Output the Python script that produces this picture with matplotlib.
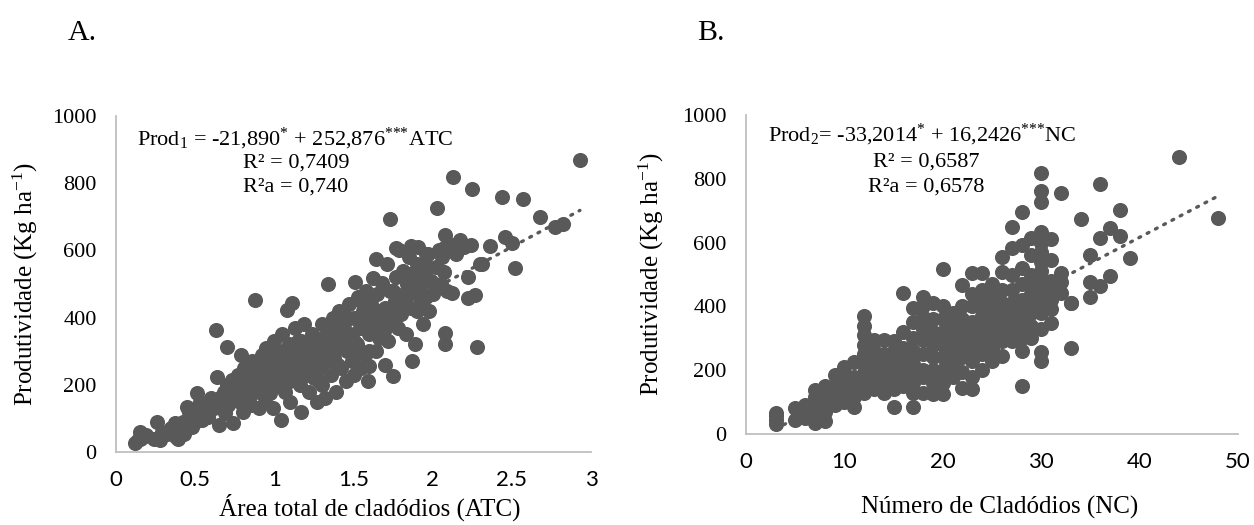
import matplotlib.pyplot as plt

# Panel A: area total de cladodios (ATC) x produtividade
atc = [
    0.12, 0.14, 0.15, 0.17, 0.19,
    0.24, 0.26, 0.28, 0.29,
    0.32, 0.35, 0.37, 0.38, 0.39, 0.40,
    0.42, 0.43, 0.45, 0.46, 0.47, 0.48, 0.49, 0.50,
    0.51, 0.52, 0.53, 0.54, 0.56, 0.57, 0.58, 0.59, 0.60,
    0.62, 0.63, 0.64, 0.65, 0.66, 0.67, 0.68, 0.69, 0.70, 0.70,
    0.71, 0.72, 0.73, 0.74, 0.75, 0.76, 0.77, 0.78, 0.79, 0.80, 0.80,
    0.81, 0.82, 0.83, 0.84, 0.85, 0.86, 0.87, 0.88, 0.88, 0.89, 0.90,
    0.91, 0.92, 0.93, 0.94, 0.95, 0.96, 0.97, 0.98, 0.99, 1.00, 1.00,
    1.01, 1.02, 1.03, 1.04, 1.05, 1.06, 1.07, 1.08, 1.08, 1.09, 1.10, 1.10,
    1.11, 1.12, 1.13, 1.14, 1.15, 1.16, 1.17, 1.17, 1.18, 1.19, 1.20,
    1.21, 1.22, 1.23, 1.24, 1.25, 1.26, 1.27, 1.28, 1.29, 1.30, 1.30,
    1.31, 1.32, 1.33, 1.34, 1.35, 1.36, 1.37, 1.38, 1.39, 1.40, 1.40,
    1.41, 1.42, 1.43, 1.44, 1.45, 1.46, 1.47, 1.48, 1.49, 1.50, 1.50,
    1.51, 1.52, 1.53, 1.54, 1.55, 1.56, 1.57, 1.58, 1.59, 1.60, 1.60,
    1.61, 1.62, 1.63, 1.64, 1.64, 1.65, 1.66, 1.67, 1.68, 1.69, 1.70, 1.70,
    1.71, 1.72, 1.73, 1.73, 1.74, 1.75, 1.76, 1.77, 1.77, 1.78, 1.79, 1.80,
    1.81, 1.82, 1.83, 1.84, 1.85, 1.86, 1.86, 1.87, 1.88, 1.89, 1.90, 1.90,
    1.91, 1.92, 1.93, 1.94, 1.95, 1.96, 1.96, 1.97, 1.98, 1.99, 2.00,
    2.02, 2.03, 2.04, 2.05, 2.06, 2.07, 2.07, 2.08, 2.08, 2.08, 2.09, 2.10,
    2.12, 2.13, 2.15, 2.17, 2.20, 2.22, 2.22, 2.24, 2.25, 2.27, 2.28, 2.30,
    2.31, 2.36, 2.44, 2.46, 2.50, 2.52, 2.57, 2.68, 2.77, 2.82, 2.93,
    # denser middle of the cloud
    0.85, 0.90, 0.95, 1.00, 1.05, 1.05, 1.10, 1.12, 1.15, 1.15,
    1.20, 1.20, 1.25, 1.25, 1.28, 1.30, 1.30, 1.35, 1.35, 1.40,
    1.40, 1.45, 1.45, 1.50, 1.50, 1.55, 1.55, 1.60, 1.60, 1.65,
    1.65, 1.70, 1.75, 1.75, 1.80, 1.85, 1.85, 1.90, 1.95, 1.95,
]
prod_atc = [
    28, 35, 60, 45, 50,
    40, 90, 35, 60,
    55, 70, 85, 45, 40, 65,
    90, 55, 135, 120, 100, 75, 85, 110,
    175, 130, 150, 95, 120, 140, 105, 125, 160,
    130, 363, 224, 80, 165, 145, 180, 115, 200, 313,
    140, 175, 215, 85, 160, 190, 230, 150, 289, 205, 120,
    250, 170, 230, 195, 140, 270, 215, 452, 180, 260, 130,
    235, 290, 200, 160, 310, 250, 175, 225, 130, 280, 330,
    200, 250, 300, 95, 350, 230, 180, 423, 270, 320, 210, 150,
    443, 260, 370, 300, 240, 200, 120, 330, 280, 380, 230,
    310, 180, 260, 350, 220, 290, 150, 330, 250, 380, 200,
    300, 160, 270, 500, 340, 230, 400, 280, 180, 360, 310,
    420, 250, 330, 380, 210, 300, 440, 350, 270, 400, 230,
    507, 320, 460, 370, 250, 420, 290, 480, 210, 350, 255,
    440, 517, 380, 300, 574, 470, 340, 410, 502, 360, 260, 430,
    560, 330, 692, 480, 390, 225, 450, 520, 606, 370, 600, 410,
    540, 470, 350, 500, 580, 430, 613, 270, 520, 320, 480, 560,
    610, 440, 500, 380, 540, 460, 589, 590, 420, 510, 470,
    550, 725, 600, 500, 580, 606, 537, 646, 322, 355, 480, 620,
    472, 818, 590, 631, 610, 522, 457, 616, 783, 467, 313, 560,
    561, 613, 760, 641, 621, 547, 752, 700, 670, 678, 868,
    230, 200, 200, 240, 270, 210, 290, 220, 330, 280,
    300, 260, 320, 260, 210, 280, 340, 300, 370, 330,
    260, 350, 400, 330, 300, 400, 450, 400, 300, 420,
    360, 390, 480, 420, 450, 470, 530, 420, 520, 560,
]

# Panel B: numero de cladodios (NC) x produtividade
nc = (
    [3] * 4 + [5] * 2 + [6] * 3 + [7] * 5 + [8] * 5 + [9] * 4 + [10] * 5
    + [11] * 5 + [12] * 9 + [13] * 6 + [14] * 6 + [15] * 7 + [16] * 7
    + [17] * 9 + [18] * 9 + [19] * 8 + [20] * 9 + [21] * 6 + [22] * 8
    + [23] * 9 + [24] * 8 + [25] * 7 + [26] * 8 + [27] * 8 + [28] * 10
    + [29] * 8 + [30] * 15 + [31] * 6 + [32] * 4 + [33] * 3 + [34] * 1
    + [35] * 3 + [36] * 3 + [37] * 2 + [38] * 2 + [39] * 1 + [44] * 1
    + [48] * 1
)
prod_nc = [
    30, 45, 55, 65,
    45, 80,
    50, 70, 90,
    35, 60, 90, 115, 138,
    40, 70, 100, 130, 150,
    90, 120, 150, 185,
    100, 130, 160, 190, 210,
    85, 115, 150, 180, 225,
    130, 160, 190, 220, 250, 280, 310, 340, 370,
    140, 170, 200, 230, 260, 295,
    130, 160, 190, 220, 250, 295,
    85, 140, 170, 200, 230, 260, 290,
    150, 180, 210, 240, 270, 320, 441,
    85, 130, 160, 190, 220, 260, 300, 350, 394,
    130, 180, 200, 250, 295, 330, 368, 400, 430,
    125, 160, 200, 240, 280, 320, 360, 410,
    125, 160, 200, 240, 280, 320, 360, 400, 516,
    180, 220, 260, 300, 340, 380,
    143, 195, 240, 280, 320, 360, 400, 466,
    140, 180, 230, 270, 310, 350, 400, 440, 504,
    200, 250, 290, 330, 370, 410, 450, 504,
    230, 270, 310, 350, 390, 430, 470,
    245, 290, 330, 370, 410, 450, 509, 556,
    290, 330, 370, 410, 450, 500, 582, 650,
    150, 260, 300, 340, 380, 420, 470, 520, 592, 697,
    300, 340, 380, 420, 460, 500, 560, 613,
    228, 258, 330, 380, 420, 450, 480, 510, 540, 570, 600, 634, 728, 763, 819,
    349, 392, 440, 480, 545, 612,
    443, 475, 504, 754,
    270, 410, 412,
    673,
    431, 477, 561,
    464, 613, 784,
    495, 645,
    621, 702,
    551,
    868,
    676,
]
# extra points in the dense part of panel B
nc_fill = [10, 11, 13, 14, 15, 16, 16, 17, 19, 19, 20, 21, 21, 22, 22,
           23, 24, 24, 25, 25, 26, 26, 27, 27, 28, 28, 29, 29, 31, 31]
prod_nc_fill = [150, 160, 220, 200, 190, 200, 230, 240, 180, 300, 290, 240, 320, 260, 300,
                290, 270, 360, 290, 330, 310, 390, 350, 390, 360, 400, 400, 440, 420, 460]

# fitted equations shown on the chart
fit_a = (-21.890, 252.876)
fit_b = (-33.2014, 16.2426)

GREY = "#595959"
AXIS = "#BFBFBF"
W, H = 1254, 525

plt.rcParams["font.family"] = "Liberation Serif"
plt.rcParams["mathtext.fontset"] = "custom"
plt.rcParams["mathtext.rm"] = "Liberation Serif"
plt.rcParams["mathtext.it"] = "Liberation Serif:italic"
plt.rcParams["mathtext.default"] = "regular"


def px(x, y):
    return x / W, 1 - y / H


def draw_panel(ax, xs, ys, fit, xlim, xticks, xticklabels):
    b0, b1 = fit
    x0, x1 = min(xs), max(xs)
    ax.plot([x0, x1], [b0 + b1 * x0, b0 + b1 * x1], color=GREY, lw=2.4,
            linestyle=(0, (0.6, 2.2)), dash_capstyle="round", zorder=1)
    ax.scatter(xs, ys, s=118, color=GREY, linewidths=0, zorder=2)
    ax.set_xlim(*xlim)
    ax.set_ylim(0, 1000)
    ax.set_xticks(xticks)
    ax.set_xticklabels(xticklabels, fontfamily="Lato", fontsize=16)
    ax.set_yticks(range(0, 1001, 200))
    ax.tick_params(length=0)
    ax.tick_params(axis="y", labelsize=16, pad=14)
    ax.tick_params(axis="x", pad=13)
    for side in ("top", "right"):
        ax.spines[side].set_visible(False)
    for side in ("left", "bottom"):
        ax.spines[side].set_color(AXIS)
        ax.spines[side].set_linewidth(1.3)
    ax.set_ylabel("Produtividade (Kg ha$^{-1}$)", fontsize=18)


fig = plt.figure(figsize=(W / 100, H / 100), dpi=100)
ax_a = fig.add_axes([116 / W, 1 - 452 / H, 475 / W, 336 / H])
ax_b = fig.add_axes([746 / W, 1 - 434 / H, 492 / W, 319 / H])

draw_panel(ax_a, atc, prod_atc, fit_a, (0, 3),
           [0, 0.5, 1, 1.5, 2, 2.5, 3], ["0", "0.5", "1", "1.5", "2", "2.5", "3"])
draw_panel(ax_b, nc + nc_fill, prod_nc + prod_nc_fill, fit_b, (0, 50),
           [0, 10, 20, 30, 40, 50], ["0", "10", "20", "30", "40", "50"])

ax_a.yaxis.set_label_coords(-0.16, 0.5)
ax_b.yaxis.set_label_coords(-0.163, 0.5)

fig.text(*px(370, 507), "Área total de cladódios (ATC)", fontsize=18, ha="center", va="center")
fig.text(*px(1000, 507), "Número de Cladódios (NC)", fontsize=18, ha="center", va="center")

fig.text(*px(68, 40), "A.", fontsize=21.5, ha="left", va="baseline")
fig.text(*px(697, 40), "B.", fontsize=21.5, ha="left", va="baseline")

star3 = "$^{{*}{*}{*}}$"
fig.text(*px(137, 139), "Prod$_1$ = -21,890$^{*}$ + 252,876" + star3 + "ATC",
         fontsize=16, ha="left", va="center")
fig.text(*px(296, 163), "R² = 0,7409", fontsize=16, ha="center", va="center")
fig.text(*px(296, 187), "R²a = 0,740", fontsize=16, ha="center", va="center")

fig.text(*px(768, 135), "Prod$_2$= -33,2014$^{*}$ + 16,2426" + star3 + "NC",
         fontsize=16, ha="left", va="center")
fig.text(*px(926, 162), "R² = 0,6587", fontsize=16, ha="center", va="center")
fig.text(*px(926, 187), "R²a = 0,6578", fontsize=16, ha="center", va="center")

fig.savefig("out.png", dpi=100)
